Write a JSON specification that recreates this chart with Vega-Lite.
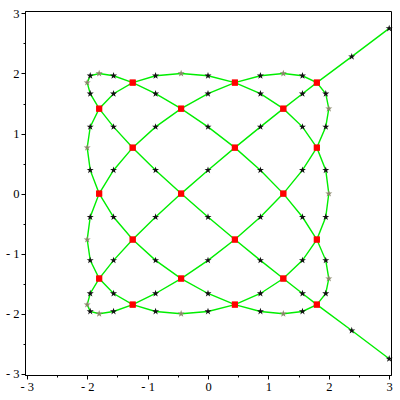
{
  "$schema": "https://vega.github.io/schema/vega-lite/v6.json",
  "width": 366,
  "height": 364,
  "autosize": "none",
  "padding": {"left": 25, "top": 11, "right": 9, "bottom": 25},
  "background": "white",
  "config": {"view": {"stroke": "black", "strokeWidth": 1}},
  "data": {"values": [
    {"o": -1, "x": 3, "y": 2.75, "k": "s"},
    {"o": 0, "x": 2.38, "y": 2.28, "k": "s"},
    {"o": 2, "x": 1.802, "y": 1.848, "k": "r"},
    {"o": 3, "x": 1.564, "y": 1.663, "k": "s"},
    {"o": 4, "x": 1.247, "y": 1.414, "k": "r"},
    {"o": 5, "x": 0.868, "y": 1.111, "k": "s"},
    {"o": 6, "x": 0.445, "y": 0.765, "k": "r"},
    {"o": 7, "x": 0, "y": 0.39, "k": "s"},
    {"o": 8, "x": -0.445, "y": 0, "k": "r"},
    {"o": 9, "x": -0.868, "y": -0.39, "k": "s"},
    {"o": 10, "x": -1.247, "y": -0.765, "k": "r"},
    {"o": 11, "x": -1.564, "y": -1.111, "k": "s"},
    {"o": 12, "x": -1.802, "y": -1.414, "k": "r"},
    {"o": 13, "x": -1.95, "y": -1.663, "k": "s"},
    {"o": 14, "x": -2, "y": -1.848, "k": "g"},
    {"o": 15, "x": -1.95, "y": -1.962, "k": "s"},
    {"o": 16, "x": -1.802, "y": -2, "k": "g"},
    {"o": 17, "x": -1.564, "y": -1.962, "k": "s"},
    {"o": 18, "x": -1.247, "y": -1.848, "k": "r"},
    {"o": 19, "x": -0.868, "y": -1.663, "k": "s"},
    {"o": 20, "x": -0.445, "y": -1.414, "k": "r"},
    {"o": 21, "x": 0, "y": -1.111, "k": "s"},
    {"o": 22, "x": 0.445, "y": -0.765, "k": "r"},
    {"o": 23, "x": 0.868, "y": -0.39, "k": "s"},
    {"o": 24, "x": 1.247, "y": 0, "k": "r"},
    {"o": 25, "x": 1.564, "y": 0.39, "k": "s"},
    {"o": 26, "x": 1.802, "y": 0.765, "k": "r"},
    {"o": 27, "x": 1.95, "y": 1.111, "k": "s"},
    {"o": 28, "x": 2, "y": 1.414, "k": "g"},
    {"o": 29, "x": 1.95, "y": 1.663, "k": "s"},
    {"o": 30, "x": 1.802, "y": 1.848, "k": "r"},
    {"o": 31, "x": 1.564, "y": 1.962, "k": "s"},
    {"o": 32, "x": 1.247, "y": 2, "k": "g"},
    {"o": 33, "x": 0.868, "y": 1.962, "k": "s"},
    {"o": 34, "x": 0.445, "y": 1.848, "k": "r"},
    {"o": 35, "x": 0, "y": 1.663, "k": "s"},
    {"o": 36, "x": -0.445, "y": 1.414, "k": "r"},
    {"o": 37, "x": -0.868, "y": 1.111, "k": "s"},
    {"o": 38, "x": -1.247, "y": 0.765, "k": "r"},
    {"o": 39, "x": -1.564, "y": 0.39, "k": "s"},
    {"o": 40, "x": -1.802, "y": 0, "k": "r"},
    {"o": 41, "x": -1.95, "y": -0.39, "k": "s"},
    {"o": 42, "x": -2, "y": -0.765, "k": "g"},
    {"o": 43, "x": -1.95, "y": -1.111, "k": "s"},
    {"o": 44, "x": -1.802, "y": -1.414, "k": "r"},
    {"o": 45, "x": -1.564, "y": -1.663, "k": "s"},
    {"o": 46, "x": -1.247, "y": -1.848, "k": "r"},
    {"o": 47, "x": -0.868, "y": -1.962, "k": "s"},
    {"o": 48, "x": -0.445, "y": -2, "k": "g"},
    {"o": 49, "x": 0, "y": -1.962, "k": "s"},
    {"o": 50, "x": 0.445, "y": -1.848, "k": "r"},
    {"o": 51, "x": 0.868, "y": -1.663, "k": "s"},
    {"o": 52, "x": 1.247, "y": -1.414, "k": "r"},
    {"o": 53, "x": 1.564, "y": -1.111, "k": "s"},
    {"o": 54, "x": 1.802, "y": -0.765, "k": "r"},
    {"o": 55, "x": 1.95, "y": -0.39, "k": "s"},
    {"o": 56, "x": 2, "y": 0, "k": "g"},
    {"o": 57, "x": 1.95, "y": 0.39, "k": "s"},
    {"o": 58, "x": 1.802, "y": 0.765, "k": "r"},
    {"o": 59, "x": 1.564, "y": 1.111, "k": "s"},
    {"o": 60, "x": 1.247, "y": 1.414, "k": "r"},
    {"o": 61, "x": 0.868, "y": 1.663, "k": "s"},
    {"o": 62, "x": 0.445, "y": 1.848, "k": "r"},
    {"o": 63, "x": 0, "y": 1.962, "k": "s"},
    {"o": 64, "x": -0.445, "y": 2, "k": "g"},
    {"o": 65, "x": -0.868, "y": 1.962, "k": "s"},
    {"o": 66, "x": -1.247, "y": 1.848, "k": "r"},
    {"o": 67, "x": -1.564, "y": 1.663, "k": "s"},
    {"o": 68, "x": -1.802, "y": 1.414, "k": "r"},
    {"o": 69, "x": -1.95, "y": 1.111, "k": "s"},
    {"o": 70, "x": -2, "y": 0.765, "k": "g"},
    {"o": 71, "x": -1.95, "y": 0.39, "k": "s"},
    {"o": 72, "x": -1.802, "y": 0, "k": "r"},
    {"o": 73, "x": -1.564, "y": -0.39, "k": "s"},
    {"o": 74, "x": -1.247, "y": -0.765, "k": "r"},
    {"o": 75, "x": -0.868, "y": -1.111, "k": "s"},
    {"o": 76, "x": -0.445, "y": -1.414, "k": "r"},
    {"o": 77, "x": 0, "y": -1.663, "k": "s"},
    {"o": 78, "x": 0.445, "y": -1.848, "k": "r"},
    {"o": 79, "x": 0.868, "y": -1.962, "k": "s"},
    {"o": 80, "x": 1.247, "y": -2, "k": "g"},
    {"o": 81, "x": 1.564, "y": -1.962, "k": "s"},
    {"o": 82, "x": 1.802, "y": -1.848, "k": "r"},
    {"o": 83, "x": 1.95, "y": -1.663, "k": "s"},
    {"o": 84, "x": 2, "y": -1.414, "k": "g"},
    {"o": 85, "x": 1.95, "y": -1.111, "k": "s"},
    {"o": 86, "x": 1.802, "y": -0.765, "k": "r"},
    {"o": 87, "x": 1.564, "y": -0.39, "k": "s"},
    {"o": 88, "x": 1.247, "y": 0, "k": "r"},
    {"o": 89, "x": 0.868, "y": 0.39, "k": "s"},
    {"o": 90, "x": 0.445, "y": 0.765, "k": "r"},
    {"o": 91, "x": 0, "y": 1.111, "k": "s"},
    {"o": 92, "x": -0.445, "y": 1.414, "k": "r"},
    {"o": 93, "x": -0.868, "y": 1.663, "k": "s"},
    {"o": 94, "x": -1.247, "y": 1.848, "k": "r"},
    {"o": 95, "x": -1.564, "y": 1.962, "k": "s"},
    {"o": 96, "x": -1.802, "y": 2, "k": "g"},
    {"o": 97, "x": -1.95, "y": 1.962, "k": "s"},
    {"o": 98, "x": -2, "y": 1.848, "k": "g"},
    {"o": 99, "x": -1.95, "y": 1.663, "k": "s"},
    {"o": 100, "x": -1.802, "y": 1.414, "k": "r"},
    {"o": 101, "x": -1.564, "y": 1.111, "k": "s"},
    {"o": 102, "x": -1.247, "y": 0.765, "k": "r"},
    {"o": 103, "x": -0.868, "y": 0.39, "k": "s"},
    {"o": 104, "x": -0.445, "y": 0, "k": "r"},
    {"o": 105, "x": 0, "y": -0.39, "k": "s"},
    {"o": 106, "x": 0.445, "y": -0.765, "k": "r"},
    {"o": 107, "x": 0.868, "y": -1.111, "k": "s"},
    {"o": 108, "x": 1.247, "y": -1.414, "k": "r"},
    {"o": 109, "x": 1.564, "y": -1.663, "k": "s"},
    {"o": 110, "x": 1.802, "y": -1.848, "k": "r"},
    {"o": 111, "x": 2.38, "y": -2.28, "k": "s"},
    {"o": 112, "x": 3, "y": -2.75, "k": "s"}
  ]},
  "encoding": {
    "x": {"field": "x", "type": "quantitative",
      "scale": {"domain": [-3.03, 3.03], "nice": false, "zero": false},
      "axis": {"title": null, "grid": false,
        "values": [-3, -2.5, -2, -1.5, -1, -0.5, 0, 0.5, 1, 1.5, 2, 2.5, 3],
        "labelExpr": "datum.value % 1 != 0 ? '' : (datum.value < 0 ? '- ' + abs(datum.value) : '' + datum.value)",
        "tickSize": {"condition": {"test": "datum.value % 1 != 0", "value": 2}, "value": 4},
        "tickColor": "black", "domainColor": "black", "labelColor": "black",
        "labelFont": "Liberation Serif", "labelFontSize": 12.5, "labelPadding": 1,
        "labelFlush": false, "labelOverlap": false}},
    "y": {"field": "y", "type": "quantitative",
      "scale": {"domain": [-3.02, 3.04], "nice": false, "zero": false},
      "axis": {"title": null, "grid": false,
        "values": [-3, -2.5, -2, -1.5, -1, -0.5, 0, 0.5, 1, 1.5, 2, 2.5, 3],
        "labelExpr": "datum.value % 1 != 0 ? '' : (datum.value < 0 ? '- ' + abs(datum.value) : '' + datum.value)",
        "tickSize": {"condition": {"test": "datum.value % 1 != 0", "value": 2}, "value": 4},
        "tickColor": "black", "domainColor": "black", "labelColor": "black",
        "labelFont": "Liberation Serif", "labelFontSize": 12.5, "labelPadding": 2,
        "labelFlush": false, "labelOverlap": false}}
  },
  "layer": [
    {"mark": {"type": "line", "color": "#00ee00", "strokeWidth": 1.4},
     "encoding": {"order": {"field": "o", "type": "quantitative"}}},
    {"transform": [{"filter": "datum.k == 's'"}],
     "mark": {"type": "point", "filled": true, "color": "#111111", "opacity": 1, "size": 55,
       "shape": "M0,-1L0.2245,-0.309L0.951,-0.309L0.363,0.118L0.588,0.809L0,0.382L-0.588,0.809L-0.363,0.118L-0.951,-0.309L-0.2245,-0.309Z"}},
    {"transform": [{"filter": "datum.k == 'g'"}],
     "mark": {"type": "point", "filled": true, "color": "#8a876a", "opacity": 1, "size": 55,
       "shape": "M0,-1L0.2245,-0.309L0.951,-0.309L0.363,0.118L0.588,0.809L0,0.382L-0.588,0.809L-0.363,0.118L-0.951,-0.309L-0.2245,-0.309Z"}},
    {"transform": [{"filter": "datum.k == 'r'"}],
     "mark": {"type": "square", "filled": true, "color": "#ff0000", "opacity": 1, "size": 36}}
  ]
}
